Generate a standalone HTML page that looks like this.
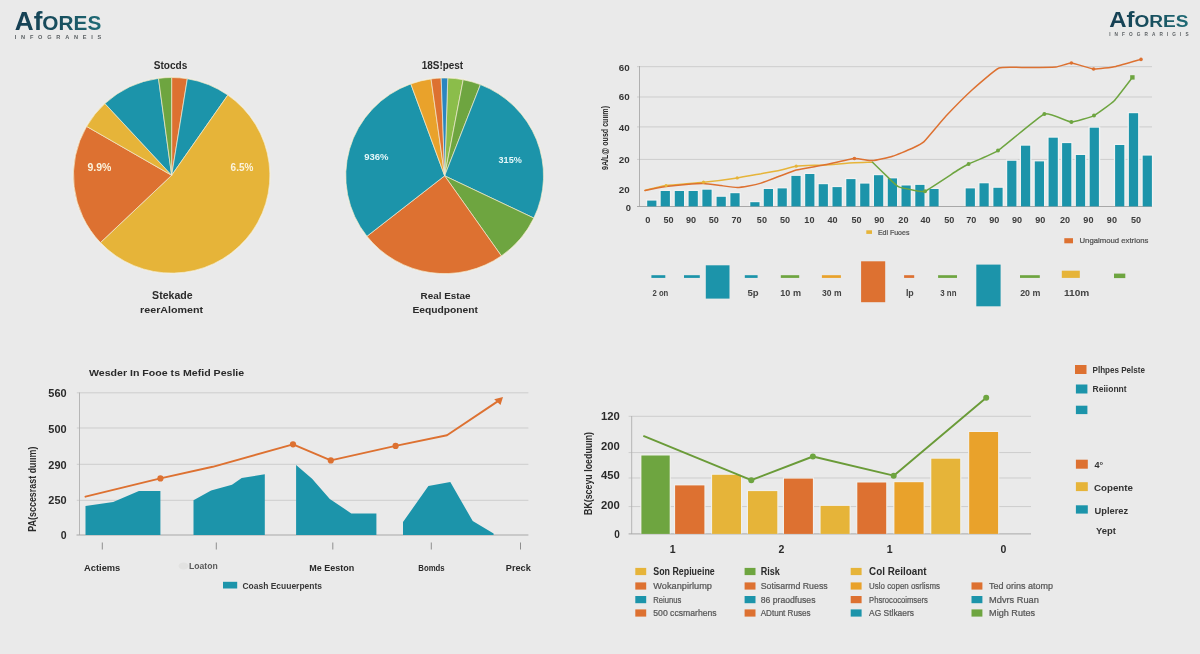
<!DOCTYPE html>
<html><head><meta charset="utf-8"><title>Afores</title>
<style>
html,body{margin:0;padding:0;background:#eaeaea;}
body{width:1200px;height:654px;overflow:hidden;font-family:"Liberation Sans",sans-serif;}
svg{display:block;font-family:"Liberation Sans",sans-serif;will-change:transform;}
</style></head><body>
<svg width="1200" height="654" viewBox="0 0 1200 654">
<defs><linearGradient id="lg14" gradientUnits="userSpaceOnUse" x1="14.8" y1="0" x2="101.3" y2="0"><stop offset="0" stop-color="#163f53"/><stop offset="0.55" stop-color="#18505f"/><stop offset="1" stop-color="#1f6b76"/></linearGradient></defs>
<text x="14.8" y="29.7" font-weight="bold" fill="url(#lg14)" textLength="86.5" lengthAdjust="spacingAndGlyphs"><tspan font-size="25.4">Af</tspan><tspan font-size="20.2">ORES</tspan></text>
<text x="14.8" y="39.1" font-size="5.6" font-weight="bold" fill="#5a5f62" textLength="86.5" lengthAdjust="spacing">INFOGRANEIS</text>
<defs><linearGradient id="lg1109" gradientUnits="userSpaceOnUse" x1="1109.2" y1="0" x2="1188.6" y2="0"><stop offset="0" stop-color="#163f53"/><stop offset="0.55" stop-color="#18505f"/><stop offset="1" stop-color="#1f6b76"/></linearGradient></defs>
<text x="1109.2" y="27.0" font-weight="bold" fill="url(#lg1109)" textLength="79.4" lengthAdjust="spacingAndGlyphs"><tspan font-size="21.6">Af</tspan><tspan font-size="17.2">ORES</tspan></text>
<text x="1109.2" y="35.8" font-size="4.7" font-weight="bold" fill="#5a5f62" textLength="79.4" lengthAdjust="spacing">INFOGRARIGIS</text>
<ellipse cx="171.65" cy="175.3" rx="99.10000000000001" ry="98.7" fill="#f3f0e4"/>
<path d="M171.65,175.30 L171.65,77.50 A98.2,97.8 0 0 1 187.35,78.76 Z" fill="#dd7131" stroke="#f1ead0" stroke-width="0.7" stroke-linejoin="round"/>
<path d="M171.65,175.30 L187.35,78.76 A98.2,97.8 0 0 1 227.83,95.09 Z" fill="#1c94aa" stroke="#f1ead0" stroke-width="0.7" stroke-linejoin="round"/>
<path d="M171.65,175.30 L227.83,95.09 A98.2,97.8 0 1 1 100.42,242.62 Z" fill="#e6b439" stroke="#f1ead0" stroke-width="0.7" stroke-linejoin="round"/>
<path d="M171.65,175.30 L100.42,242.62 A98.2,97.8 0 0 1 86.61,126.40 Z" fill="#dd7131" stroke="#f1ead0" stroke-width="0.7" stroke-linejoin="round"/>
<path d="M171.65,175.30 L86.61,126.40 A98.2,97.8 0 0 1 104.93,103.54 Z" fill="#e6b439" stroke="#f1ead0" stroke-width="0.7" stroke-linejoin="round"/>
<path d="M171.65,175.30 L104.93,103.54 A98.2,97.8 0 0 1 158.49,78.38 Z" fill="#1c94aa" stroke="#f1ead0" stroke-width="0.7" stroke-linejoin="round"/>
<path d="M171.65,175.30 L158.49,78.38 A98.2,97.8 0 0 1 171.65,77.50 Z" fill="#6ea540" stroke="#f1ead0" stroke-width="0.7" stroke-linejoin="round"/>
<text x="153.7" y="68.5" font-size="11" font-weight="bold" fill="#2a2a2a" text-anchor="start" textLength="33.6" lengthAdjust="spacingAndGlyphs" >Stocds</text>
<text x="87.5" y="171.0" font-size="10" font-weight="bold" fill="#fbf3dc" text-anchor="start" textLength="23.9" lengthAdjust="spacingAndGlyphs" >9.9%</text>
<text x="230.6" y="171.0" font-size="10" font-weight="bold" fill="#fbf3dc" text-anchor="start" textLength="22.7" lengthAdjust="spacingAndGlyphs" >6.5%</text>
<text x="152.1" y="298.8" font-size="10.3" font-weight="bold" fill="#2a2a2a" text-anchor="start" textLength="40.5" lengthAdjust="spacingAndGlyphs" >Stekade</text>
<text x="140.1" y="312.5" font-size="9.6" font-weight="bold" fill="#2a2a2a" text-anchor="start" textLength="63.0" lengthAdjust="spacingAndGlyphs" >reerAloment</text>
<ellipse cx="444.65" cy="175.8" rx="99.80000000000001" ry="98.7" fill="#f3f0e4"/>
<path d="M444.65,175.80 L447.76,78.05 A98.9,97.8 0 0 1 463.18,79.73 Z" fill="#8bbd4a" stroke="#f1ead0" stroke-width="0.7" stroke-linejoin="round"/>
<path d="M444.65,175.80 L463.18,79.73 A98.9,97.8 0 0 1 480.41,84.62 Z" fill="#6ea540" stroke="#f1ead0" stroke-width="0.7" stroke-linejoin="round"/>
<path d="M444.65,175.80 L480.41,84.62 A98.9,97.8 0 0 1 533.84,218.06 Z" fill="#1c94aa" stroke="#f1ead0" stroke-width="0.7" stroke-linejoin="round"/>
<path d="M444.65,175.80 L533.84,218.06 A98.9,97.8 0 0 1 501.38,255.91 Z" fill="#6ea540" stroke="#f1ead0" stroke-width="0.7" stroke-linejoin="round"/>
<path d="M444.65,175.80 L501.38,255.91 A98.9,97.8 0 0 1 366.93,236.28 Z" fill="#dd7131" stroke="#f1ead0" stroke-width="0.7" stroke-linejoin="round"/>
<path d="M444.65,175.80 L366.93,236.28 A98.9,97.8 0 0 1 410.82,83.90 Z" fill="#1c94aa" stroke="#f1ead0" stroke-width="0.7" stroke-linejoin="round"/>
<path d="M444.65,175.80 L410.82,83.90 A98.9,97.8 0 0 1 431.06,78.93 Z" fill="#e9a22b" stroke="#f1ead0" stroke-width="0.7" stroke-linejoin="round"/>
<path d="M444.65,175.80 L431.06,78.93 A98.9,97.8 0 0 1 441.20,78.06 Z" fill="#dd7131" stroke="#f1ead0" stroke-width="0.7" stroke-linejoin="round"/>
<path d="M444.65,175.80 L441.20,78.06 A98.9,97.8 0 0 1 447.76,78.05 Z" fill="#2a86c0" stroke="#f1ead0" stroke-width="0.7" stroke-linejoin="round"/>
<text x="421.7" y="68.5" font-size="11" font-weight="bold" fill="#2a2a2a" text-anchor="start" textLength="41.5" lengthAdjust="spacingAndGlyphs" >18S!pest</text>
<text x="364.2" y="160.4" font-size="9.6" font-weight="bold" fill="#e6f7f9" text-anchor="start" textLength="24.3" lengthAdjust="spacingAndGlyphs" >936%</text>
<text x="498.5" y="163.1" font-size="9.6" font-weight="bold" fill="#e6f7f9" text-anchor="start" textLength="23.3" lengthAdjust="spacingAndGlyphs" >315%</text>
<text x="420.6" y="298.7" font-size="9.9" font-weight="bold" fill="#2a2a2a" text-anchor="start" textLength="49.9" lengthAdjust="spacingAndGlyphs" >Real Estae</text>
<text x="412.4" y="312.6" font-size="9.5" font-weight="bold" fill="#2a2a2a" text-anchor="start" textLength="65.6" lengthAdjust="spacingAndGlyphs" >Eequdponent</text>
<line x1="637.0" y1="66.7" x2="1152.0" y2="66.7" stroke="#cdcdcd" stroke-width="1"/>
<line x1="637.0" y1="97.0" x2="1152.0" y2="97.0" stroke="#cdcdcd" stroke-width="1"/>
<line x1="637.0" y1="126.9" x2="1152.0" y2="126.9" stroke="#cdcdcd" stroke-width="1"/>
<line x1="637.0" y1="159.4" x2="1152.0" y2="159.4" stroke="#cdcdcd" stroke-width="1"/>
<line x1="639.5" y1="66.0" x2="639.5" y2="206.5" stroke="#a9a9a9" stroke-width="0.9"/>
<line x1="637.0" y1="206.5" x2="1152.0" y2="206.5" stroke="#a0a0a0" stroke-width="0.9"/>
<text x="629.6" y="70.5" font-size="9.4" font-weight="bold" fill="#363636" text-anchor="end" textLength="10.9" lengthAdjust="spacingAndGlyphs" >60</text>
<text x="629.6" y="100.3" font-size="9.4" font-weight="bold" fill="#363636" text-anchor="end" textLength="10.9" lengthAdjust="spacingAndGlyphs" >60</text>
<text x="629.6" y="131.3" font-size="9.4" font-weight="bold" fill="#363636" text-anchor="end" textLength="10.9" lengthAdjust="spacingAndGlyphs" >40</text>
<text x="629.6" y="163.0" font-size="9.4" font-weight="bold" fill="#363636" text-anchor="end" textLength="10.9" lengthAdjust="spacingAndGlyphs" >20</text>
<text x="629.6" y="193.4" font-size="9.4" font-weight="bold" fill="#363636" text-anchor="end" textLength="10.9" lengthAdjust="spacingAndGlyphs" >20</text>
<text x="631.0" y="210.6" font-size="9.4" font-weight="bold" fill="#363636" text-anchor="end" >0</text>
<rect x="645.9" y="199.4" width="11.8" height="6.6" fill="#f0f2f2"/>
<rect x="659.4" y="189.8" width="11.8" height="16.2" fill="#f0f2f2"/>
<rect x="673.5" y="189.8" width="11.8" height="16.2" fill="#f0f2f2"/>
<rect x="687.3" y="189.8" width="11.8" height="16.2" fill="#f0f2f2"/>
<rect x="701.1" y="188.5" width="11.8" height="17.5" fill="#f0f2f2"/>
<rect x="715.3" y="195.6" width="11.8" height="10.4" fill="#f0f2f2"/>
<rect x="729.1" y="192.0" width="11.8" height="14.0" fill="#f0f2f2"/>
<rect x="749.0" y="201.0" width="11.8" height="5.0" fill="#f0f2f2"/>
<rect x="762.5" y="187.8" width="11.8" height="18.2" fill="#f0f2f2"/>
<rect x="776.3" y="187.2" width="11.8" height="18.8" fill="#f0f2f2"/>
<rect x="790.1" y="174.7" width="11.8" height="31.3" fill="#f0f2f2"/>
<rect x="803.9" y="172.8" width="11.8" height="33.2" fill="#f0f2f2"/>
<rect x="817.4" y="183.0" width="11.8" height="23.0" fill="#f0f2f2"/>
<rect x="831.2" y="185.9" width="11.8" height="20.1" fill="#f0f2f2"/>
<rect x="845.0" y="177.9" width="11.8" height="28.1" fill="#f0f2f2"/>
<rect x="858.9" y="182.4" width="11.8" height="23.6" fill="#f0f2f2"/>
<rect x="872.7" y="174.0" width="11.8" height="32.0" fill="#f0f2f2"/>
<rect x="886.5" y="177.2" width="11.8" height="28.8" fill="#f0f2f2"/>
<rect x="900.2" y="184.3" width="11.8" height="21.7" fill="#f0f2f2"/>
<rect x="914.0" y="183.7" width="11.8" height="22.3" fill="#f0f2f2"/>
<rect x="928.1" y="187.8" width="11.8" height="18.2" fill="#f0f2f2"/>
<rect x="964.4" y="187.2" width="11.8" height="18.8" fill="#f0f2f2"/>
<rect x="978.2" y="182.1" width="11.8" height="23.9" fill="#f0f2f2"/>
<rect x="992.1" y="186.6" width="11.8" height="19.4" fill="#f0f2f2"/>
<rect x="1005.9" y="159.6" width="11.8" height="46.4" fill="#f0f2f2"/>
<rect x="1019.7" y="144.5" width="11.8" height="61.5" fill="#f0f2f2"/>
<rect x="1033.5" y="160.2" width="11.8" height="45.8" fill="#f0f2f2"/>
<rect x="1047.3" y="136.5" width="11.8" height="69.5" fill="#f0f2f2"/>
<rect x="1060.8" y="141.9" width="11.8" height="64.1" fill="#f0f2f2"/>
<rect x="1074.6" y="153.8" width="11.8" height="52.2" fill="#f0f2f2"/>
<rect x="1088.4" y="126.5" width="11.8" height="79.5" fill="#f0f2f2"/>
<rect x="1113.8" y="143.8" width="11.8" height="62.2" fill="#f0f2f2"/>
<rect x="1127.6" y="112.0" width="11.8" height="94.0" fill="#f0f2f2"/>
<rect x="1141.4" y="154.4" width="11.8" height="51.6" fill="#f0f2f2"/>
<rect x="647.2" y="200.6" width="9.2" height="5.8" fill="#1c94aa"/>
<rect x="660.7" y="191.0" width="9.2" height="15.4" fill="#1c94aa"/>
<rect x="674.8" y="191.0" width="9.2" height="15.4" fill="#1c94aa"/>
<rect x="688.6" y="191.0" width="9.2" height="15.4" fill="#1c94aa"/>
<rect x="702.4" y="189.7" width="9.2" height="16.7" fill="#1c94aa"/>
<rect x="716.6" y="196.8" width="9.2" height="9.6" fill="#1c94aa"/>
<rect x="730.4" y="193.2" width="9.2" height="13.2" fill="#1c94aa"/>
<rect x="750.3" y="202.2" width="9.2" height="4.2" fill="#1c94aa"/>
<rect x="763.8" y="189.0" width="9.2" height="17.4" fill="#1c94aa"/>
<rect x="777.6" y="188.4" width="9.2" height="18.0" fill="#1c94aa"/>
<rect x="791.4" y="175.9" width="9.2" height="30.5" fill="#1c94aa"/>
<rect x="805.2" y="174.0" width="9.2" height="32.4" fill="#1c94aa"/>
<rect x="818.7" y="184.2" width="9.2" height="22.2" fill="#1c94aa"/>
<rect x="832.5" y="187.1" width="9.2" height="19.3" fill="#1c94aa"/>
<rect x="846.3" y="179.1" width="9.2" height="27.3" fill="#1c94aa"/>
<rect x="860.2" y="183.6" width="9.2" height="22.8" fill="#1c94aa"/>
<rect x="874.0" y="175.2" width="9.2" height="31.2" fill="#1c94aa"/>
<rect x="887.8" y="178.4" width="9.2" height="28.0" fill="#1c94aa"/>
<rect x="901.5" y="185.5" width="9.2" height="20.9" fill="#1c94aa"/>
<rect x="915.3" y="184.9" width="9.2" height="21.5" fill="#1c94aa"/>
<rect x="929.4" y="189.0" width="9.2" height="17.4" fill="#1c94aa"/>
<rect x="965.7" y="188.4" width="9.2" height="18.0" fill="#1c94aa"/>
<rect x="979.5" y="183.3" width="9.2" height="23.1" fill="#1c94aa"/>
<rect x="993.4" y="187.8" width="9.2" height="18.6" fill="#1c94aa"/>
<rect x="1007.2" y="160.8" width="9.2" height="45.6" fill="#1c94aa"/>
<rect x="1021.0" y="145.7" width="9.2" height="60.7" fill="#1c94aa"/>
<rect x="1034.8" y="161.4" width="9.2" height="45.0" fill="#1c94aa"/>
<rect x="1048.6" y="137.7" width="9.2" height="68.7" fill="#1c94aa"/>
<rect x="1062.1" y="143.1" width="9.2" height="63.3" fill="#1c94aa"/>
<rect x="1075.9" y="155.0" width="9.2" height="51.4" fill="#1c94aa"/>
<rect x="1089.7" y="127.7" width="9.2" height="78.7" fill="#1c94aa"/>
<rect x="1115.1" y="145.0" width="9.2" height="61.4" fill="#1c94aa"/>
<rect x="1128.9" y="113.2" width="9.2" height="93.2" fill="#1c94aa"/>
<rect x="1142.7" y="155.6" width="9.2" height="50.8" fill="#1c94aa"/>
<path d="M645.0,190.4 C647.1,189.9 660.1,186.4 666.0,185.6 C671.9,184.8 696.4,183.0 703.5,182.2 C710.6,181.5 731.5,178.8 737.2,177.9 C743.0,177.1 756.7,174.5 761.0,173.8 C765.3,173.0 776.5,171.0 780.0,170.2 C783.5,169.5 791.9,166.8 796.2,166.2 C800.6,165.7 817.9,165.3 823.8,165.0 C829.6,164.7 849.5,163.0 854.4,162.8 C859.3,162.5 870.7,162.3 872.5,162.2" fill="none" stroke="#e6b439" stroke-width="1.5" stroke-linejoin="round" stroke-linecap="round"/>
<path d="M872.5,162.2 C873.5,163.2 887.2,176.6 888.8,178.1 C890.3,179.6 897.3,186.2 898.8,186.9 C900.2,187.6 910.9,189.7 912.5,190.0 C914.1,190.3 922.3,192.4 925.0,191.2 C927.7,190.1 955.4,171.6 958.0,170.0 C960.6,168.4 966.2,165.2 968.6,164.0 C971.0,162.8 993.5,153.6 998.0,150.6 C1002.5,147.6 1040.0,115.7 1044.4,114.0 C1048.8,112.3 1068.4,121.9 1071.4,122.0 C1074.4,122.1 1091.4,116.9 1094.0,115.6 C1096.6,114.3 1111.7,103.3 1114.0,101.0 C1116.3,98.7 1131.3,78.8 1132.4,77.4" fill="none" stroke="#6ea540" stroke-width="1.5" stroke-linejoin="round" stroke-linecap="round"/>
<path d="M645.0,190.4 C646.5,190.1 663.1,186.9 666.0,186.5 C668.9,186.1 683.4,184.6 686.0,184.4 C688.6,184.2 701.0,183.4 703.5,183.5 C706.0,183.6 718.6,185.3 721.0,185.6 C723.4,185.9 735.3,187.5 737.2,187.5 C739.2,187.5 746.8,186.3 748.5,186.0 C750.2,185.7 758.8,183.8 761.0,183.1 C763.2,182.4 777.5,176.9 780.0,176.0 C782.5,175.1 793.2,170.8 796.2,170.0 C799.3,169.2 819.7,165.8 823.8,165.0 C827.8,164.2 851.0,158.8 854.4,158.5 C857.8,158.2 869.8,160.8 872.5,160.6 C875.2,160.4 889.8,157.1 892.5,156.2 C895.2,155.4 909.1,149.8 911.2,148.8 C913.4,147.7 921.3,144.2 923.8,141.9 C926.2,139.6 942.6,119.6 946.0,116.0 C949.4,112.4 968.3,93.4 972.0,90.0 C975.7,86.6 995.1,69.6 999.0,68.0 C1002.9,66.4 1024.0,67.7 1028.0,67.6 C1032.0,67.5 1053.0,67.3 1056.0,67.0 C1059.0,66.7 1068.8,62.9 1071.4,63.0 C1074.0,63.1 1090.5,68.8 1093.6,69.0 C1096.7,69.2 1112.7,67.1 1116.0,66.4 C1119.3,65.7 1139.2,59.9 1141.0,59.4" fill="none" stroke="#dd7131" stroke-width="1.5" stroke-linejoin="round" stroke-linecap="round"/>
<circle cx="925.0" cy="191.2" r="2.0" fill="#6ea540"/>
<circle cx="968.6" cy="164.0" r="2.0" fill="#6ea540"/>
<circle cx="998.0" cy="150.6" r="2.0" fill="#6ea540"/>
<circle cx="1044.4" cy="114.0" r="2.0" fill="#6ea540"/>
<circle cx="1071.4" cy="122.0" r="2.0" fill="#6ea540"/>
<circle cx="1094.0" cy="115.6" r="2.0" fill="#6ea540"/>
<rect x="1130.2" y="75.2" width="4.4" height="4.4" fill="#6ea540"/>
<circle cx="854.4" cy="158.5" r="1.8" fill="#dd7131"/>
<circle cx="1071.4" cy="63.0" r="1.8" fill="#dd7131"/>
<circle cx="1093.6" cy="69.0" r="1.8" fill="#dd7131"/>
<circle cx="1141.0" cy="59.4" r="1.8" fill="#dd7131"/>
<circle cx="666.0" cy="185.6" r="1.6" fill="#e6b439"/>
<circle cx="703.5" cy="182.2" r="1.6" fill="#e6b439"/>
<circle cx="737.2" cy="177.9" r="1.6" fill="#e6b439"/>
<circle cx="796.2" cy="166.2" r="1.6" fill="#e6b439"/>
<text x="647.8" y="223.0" font-size="9.3" font-weight="bold" fill="#3c3c3c" text-anchor="middle" >0</text>
<text x="668.6" y="223.0" font-size="9.3" font-weight="bold" fill="#3c3c3c" text-anchor="middle" textLength="10.1" lengthAdjust="spacingAndGlyphs" >50</text>
<text x="691.0" y="223.0" font-size="9.3" font-weight="bold" fill="#3c3c3c" text-anchor="middle" textLength="10.1" lengthAdjust="spacingAndGlyphs" >90</text>
<text x="713.7" y="223.0" font-size="9.3" font-weight="bold" fill="#3c3c3c" text-anchor="middle" textLength="10.1" lengthAdjust="spacingAndGlyphs" >50</text>
<text x="736.5" y="223.0" font-size="9.3" font-weight="bold" fill="#3c3c3c" text-anchor="middle" textLength="10.1" lengthAdjust="spacingAndGlyphs" >70</text>
<text x="761.9" y="223.0" font-size="9.3" font-weight="bold" fill="#3c3c3c" text-anchor="middle" textLength="10.1" lengthAdjust="spacingAndGlyphs" >50</text>
<text x="785.0" y="223.0" font-size="9.3" font-weight="bold" fill="#3c3c3c" text-anchor="middle" textLength="10.1" lengthAdjust="spacingAndGlyphs" >50</text>
<text x="809.4" y="223.0" font-size="9.3" font-weight="bold" fill="#3c3c3c" text-anchor="middle" textLength="10.1" lengthAdjust="spacingAndGlyphs" >10</text>
<text x="832.5" y="223.0" font-size="9.3" font-weight="bold" fill="#3c3c3c" text-anchor="middle" textLength="10.1" lengthAdjust="spacingAndGlyphs" >40</text>
<text x="856.6" y="223.0" font-size="9.3" font-weight="bold" fill="#3c3c3c" text-anchor="middle" textLength="10.1" lengthAdjust="spacingAndGlyphs" >50</text>
<text x="879.3" y="223.0" font-size="9.3" font-weight="bold" fill="#3c3c3c" text-anchor="middle" textLength="10.1" lengthAdjust="spacingAndGlyphs" >90</text>
<text x="903.4" y="223.0" font-size="9.3" font-weight="bold" fill="#3c3c3c" text-anchor="middle" textLength="10.1" lengthAdjust="spacingAndGlyphs" >20</text>
<text x="925.6" y="223.0" font-size="9.3" font-weight="bold" fill="#3c3c3c" text-anchor="middle" textLength="10.1" lengthAdjust="spacingAndGlyphs" >40</text>
<text x="949.3" y="223.0" font-size="9.3" font-weight="bold" fill="#3c3c3c" text-anchor="middle" textLength="10.1" lengthAdjust="spacingAndGlyphs" >50</text>
<text x="971.2" y="223.0" font-size="9.3" font-weight="bold" fill="#3c3c3c" text-anchor="middle" textLength="10.1" lengthAdjust="spacingAndGlyphs" >70</text>
<text x="994.3" y="223.0" font-size="9.3" font-weight="bold" fill="#3c3c3c" text-anchor="middle" textLength="10.1" lengthAdjust="spacingAndGlyphs" >90</text>
<text x="1017.1" y="223.0" font-size="9.3" font-weight="bold" fill="#3c3c3c" text-anchor="middle" textLength="10.1" lengthAdjust="spacingAndGlyphs" >90</text>
<text x="1040.3" y="223.0" font-size="9.3" font-weight="bold" fill="#3c3c3c" text-anchor="middle" textLength="10.1" lengthAdjust="spacingAndGlyphs" >90</text>
<text x="1065.0" y="223.0" font-size="9.3" font-weight="bold" fill="#3c3c3c" text-anchor="middle" textLength="10.1" lengthAdjust="spacingAndGlyphs" >20</text>
<text x="1088.4" y="223.0" font-size="9.3" font-weight="bold" fill="#3c3c3c" text-anchor="middle" textLength="10.1" lengthAdjust="spacingAndGlyphs" >90</text>
<text x="1111.9" y="223.0" font-size="9.3" font-weight="bold" fill="#3c3c3c" text-anchor="middle" textLength="10.1" lengthAdjust="spacingAndGlyphs" >90</text>
<text x="1136.0" y="223.0" font-size="9.3" font-weight="bold" fill="#3c3c3c" text-anchor="middle" textLength="10.1" lengthAdjust="spacingAndGlyphs" >50</text>
<text transform="translate(607.9,170.0) rotate(-90)" font-size="9.5" font-weight="bold" fill="#2a2a2a" textLength="64.0" lengthAdjust="spacingAndGlyphs">9A/L@ ousd cuıım)</text>
<rect x="866.3" y="230.3" width="5.7" height="3.6" fill="#e6b439"/>
<text x="877.9" y="234.7" font-size="7.2" font-weight="normal" fill="#505050" text-anchor="start" textLength="31.5" lengthAdjust="spacingAndGlyphs"  stroke="#505050" stroke-width="0.22">Edl Fuoes</text>
<rect x="1064.3" y="238.2" width="8.7" height="5.1" fill="#dd7131"/>
<text x="1079.5" y="243.3" font-size="7.4" font-weight="normal" fill="#505050" text-anchor="start" textLength="68.9" lengthAdjust="spacingAndGlyphs"  stroke="#505050" stroke-width="0.22">Ungalmoud extrions</text>
<rect x="651.4" y="275.2" width="13.9" height="2.7" fill="#1c94aa"/>
<rect x="684.0" y="275.2" width="15.8" height="2.7" fill="#1c94aa"/>
<rect x="705.8" y="265.3" width="23.7" height="33.3" fill="#1c94aa"/>
<rect x="744.8" y="275.2" width="12.8" height="2.7" fill="#1c94aa"/>
<rect x="780.8" y="275.2" width="18.4" height="2.7" fill="#6ea540"/>
<rect x="821.9" y="275.2" width="19.0" height="2.7" fill="#e9a22b"/>
<rect x="861.1" y="261.3" width="24.1" height="40.9" fill="#dd7131"/>
<rect x="904.1" y="275.2" width="10.1" height="2.7" fill="#dd7131"/>
<rect x="938.1" y="275.2" width="18.9" height="2.7" fill="#6ea540"/>
<rect x="976.3" y="264.6" width="24.3" height="41.7" fill="#1c94aa"/>
<rect x="1020.0" y="275.2" width="19.8" height="2.7" fill="#6ea540"/>
<rect x="1061.8" y="270.7" width="18.0" height="7.2" fill="#e6b439"/>
<rect x="1114.0" y="273.6" width="11.3" height="4.5" fill="#6ea540"/>
<text x="652.5" y="296.4" font-size="8.4" font-weight="bold" fill="#444" text-anchor="start" textLength="15.8" lengthAdjust="spacingAndGlyphs" >2 on</text>
<text x="747.5" y="296.4" font-size="8.4" font-weight="bold" fill="#444" text-anchor="start" textLength="11.2" lengthAdjust="spacingAndGlyphs" >5p</text>
<text x="780.3" y="296.4" font-size="8.4" font-weight="bold" fill="#444" text-anchor="start" textLength="20.7" lengthAdjust="spacingAndGlyphs" >10 m</text>
<text x="822.0" y="296.4" font-size="8.4" font-weight="bold" fill="#444" text-anchor="start" textLength="19.5" lengthAdjust="spacingAndGlyphs" >30 m</text>
<text x="905.9" y="296.4" font-size="8.4" font-weight="bold" fill="#444" text-anchor="start" textLength="7.9" lengthAdjust="spacingAndGlyphs" >lp</text>
<text x="940.3" y="296.4" font-size="8.4" font-weight="bold" fill="#444" text-anchor="start" textLength="16.2" lengthAdjust="spacingAndGlyphs" >3 nn</text>
<text x="1020.2" y="296.4" font-size="8.4" font-weight="bold" fill="#444" text-anchor="start" textLength="20.2" lengthAdjust="spacingAndGlyphs" >20 m</text>
<text x="1064.0" y="296.4" font-size="8.4" font-weight="bold" fill="#444" text-anchor="start" textLength="25.3" lengthAdjust="spacingAndGlyphs" >110m</text>
<text x="89.0" y="375.8" font-size="9.9" font-weight="bold" fill="#2a2a2a" text-anchor="start" textLength="155.2" lengthAdjust="spacingAndGlyphs" >Wesder In Fooe ts Meﬁd Peslie</text>
<line x1="76.8" y1="392.8" x2="528.4" y2="392.8" stroke="#cdcdcd" stroke-width="1"/>
<line x1="76.8" y1="428.0" x2="528.4" y2="428.0" stroke="#cdcdcd" stroke-width="1"/>
<line x1="76.8" y1="464.3" x2="528.4" y2="464.3" stroke="#cdcdcd" stroke-width="1"/>
<line x1="76.8" y1="500.3" x2="528.4" y2="500.3" stroke="#cdcdcd" stroke-width="1"/>
<line x1="79.5" y1="392.5" x2="79.5" y2="535.0" stroke="#b0b0b0" stroke-width="0.9"/>
<line x1="76.5" y1="535.0" x2="528.4" y2="535.0" stroke="#a8a8a8" stroke-width="1"/>
<text x="66.6" y="397.0" font-size="10.8" font-weight="bold" fill="#2a2a2a" text-anchor="end" textLength="18.3" lengthAdjust="spacingAndGlyphs" >560</text>
<text x="66.6" y="432.5" font-size="10.8" font-weight="bold" fill="#2a2a2a" text-anchor="end" textLength="18.3" lengthAdjust="spacingAndGlyphs" >500</text>
<text x="66.6" y="468.7" font-size="10.8" font-weight="bold" fill="#2a2a2a" text-anchor="end" textLength="18.3" lengthAdjust="spacingAndGlyphs" >290</text>
<text x="66.6" y="504.4" font-size="10.8" font-weight="bold" fill="#2a2a2a" text-anchor="end" textLength="18.3" lengthAdjust="spacingAndGlyphs" >250</text>
<text x="66.5" y="538.8" font-size="10.5" font-weight="bold" fill="#2a2a2a" text-anchor="end" >0</text>
<polygon points="85.5,535.0 85.5,506.0 113.2,502.1 138.9,490.9 160.4,490.9 160.4,535.0" fill="#1c94aa"/>
<polygon points="193.5,535.0 193.5,500.2 211.1,490.6 232.0,484.8 241.7,478.0 264.8,474.2 264.8,535.0" fill="#1c94aa"/>
<polygon points="296.1,535.0 296.1,464.9 312.1,478.7 329.8,498.9 351.3,513.4 376.4,513.4 376.4,535.0" fill="#1c94aa"/>
<polygon points="403.0,535.0 403.0,522.0 428.4,486.1 450.3,481.9 472.7,521.1 493.6,533.6 493.6,535.0" fill="#1c94aa"/>
<polyline points="85.5,496.7 160.4,478.4 212.7,466.8 293.0,444.3 330.8,460.4 395.6,445.9 447.0,435.3 498.4,400.9" fill="none" stroke="#dd7131" stroke-width="1.9" stroke-linejoin="round" stroke-linecap="round"/>
<circle cx="160.4" cy="478.4" r="3.1" fill="#dd7131"/>
<circle cx="293.0" cy="444.3" r="3.1" fill="#dd7131"/>
<circle cx="330.8" cy="460.4" r="3.1" fill="#dd7131"/>
<circle cx="395.6" cy="445.9" r="3.1" fill="#dd7131"/>
<polygon points="494.2,399.2 503,396.9 500.5,405" fill="#dd7131"/>
<line x1="102.3" y1="542.5" x2="102.3" y2="549.5" stroke="#777" stroke-width="0.8"/>
<line x1="216.3" y1="542.5" x2="216.3" y2="549.5" stroke="#777" stroke-width="0.8"/>
<line x1="332.8" y1="542.5" x2="332.8" y2="549.5" stroke="#777" stroke-width="0.8"/>
<line x1="431.3" y1="542.5" x2="431.3" y2="549.5" stroke="#777" stroke-width="0.8"/>
<line x1="520.5" y1="542.5" x2="520.5" y2="549.5" stroke="#777" stroke-width="0.8"/>
<text x="84.1" y="570.8" font-size="9.9" font-weight="bold" fill="#2a2a2a" text-anchor="start" textLength="36.2" lengthAdjust="spacingAndGlyphs" >Actiems</text>
<ellipse cx="183.5" cy="566" rx="5" ry="3.5" fill="#e2e2e1"/>
<text x="189.0" y="569.2" font-size="8.2" font-weight="bold" fill="#5a5a5a" text-anchor="start" textLength="28.7" lengthAdjust="spacingAndGlyphs" >Loaton</text>
<text x="309.2" y="570.8" font-size="9.9" font-weight="bold" fill="#2a2a2a" text-anchor="start" textLength="45.0" lengthAdjust="spacingAndGlyphs" >Me Eeston</text>
<text x="418.3" y="570.8" font-size="9.9" font-weight="bold" fill="#2a2a2a" text-anchor="start" textLength="26.3" lengthAdjust="spacingAndGlyphs" >Bomds</text>
<text x="505.8" y="570.8" font-size="9.9" font-weight="bold" fill="#2a2a2a" text-anchor="start" textLength="25.0" lengthAdjust="spacingAndGlyphs" >Preck</text>
<rect x="223.0" y="581.8" width="14.2" height="6.7" fill="#1c94aa"/>
<text x="242.5" y="588.6" font-size="8.9" font-weight="bold" fill="#383838" text-anchor="start" textLength="79.5" lengthAdjust="spacingAndGlyphs" >Coash Ecuuerpents</text>
<text transform="translate(36.4,531.7) rotate(-90)" font-size="10" font-weight="bold" fill="#2a2a2a" textLength="85.1" lengthAdjust="spacingAndGlyphs">PA(sccesrast duıım)</text>
<text transform="translate(592.0,515.0) rotate(-90)" font-size="10" font-weight="bold" fill="#2a2a2a" textLength="83.0" lengthAdjust="spacingAndGlyphs">BK(sceyu loeduuın)</text>
<line x1="628.6" y1="416.3" x2="1031.0" y2="416.3" stroke="#cdcdcd" stroke-width="1"/>
<line x1="628.6" y1="452.6" x2="1031.0" y2="452.6" stroke="#cdcdcd" stroke-width="1"/>
<line x1="628.6" y1="478.0" x2="1031.0" y2="478.0" stroke="#cdcdcd" stroke-width="1"/>
<line x1="628.6" y1="506.6" x2="1031.0" y2="506.6" stroke="#cdcdcd" stroke-width="1"/>
<line x1="631.7" y1="416.0" x2="631.7" y2="533.9" stroke="#b0b0b0" stroke-width="0.9"/>
<line x1="628.6" y1="533.9" x2="1031.0" y2="533.9" stroke="#a8a8a8" stroke-width="1"/>
<text x="619.8" y="419.6" font-size="10" font-weight="bold" fill="#2a2a2a" text-anchor="end" textLength="18.8" lengthAdjust="spacingAndGlyphs" >120</text>
<text x="619.8" y="450.1" font-size="10" font-weight="bold" fill="#2a2a2a" text-anchor="end" textLength="18.8" lengthAdjust="spacingAndGlyphs" >200</text>
<text x="619.8" y="479.3" font-size="10" font-weight="bold" fill="#2a2a2a" text-anchor="end" textLength="18.8" lengthAdjust="spacingAndGlyphs" >450</text>
<text x="619.8" y="509.0" font-size="10" font-weight="bold" fill="#2a2a2a" text-anchor="end" textLength="18.8" lengthAdjust="spacingAndGlyphs" >200</text>
<text x="619.8" y="537.9" font-size="10" font-weight="bold" fill="#2a2a2a" text-anchor="end" >0</text>
<rect x="640.3" y="454.4" width="30.5" height="79.0" fill="#f1f0ec"/>
<rect x="641.4" y="455.5" width="28.3" height="78.4" fill="#6ea540"/>
<rect x="674.0" y="484.3" width="31.5" height="49.1" fill="#f1f0ec"/>
<rect x="675.1" y="485.4" width="29.3" height="48.5" fill="#dd7131"/>
<rect x="711.0" y="473.7" width="31.1" height="59.7" fill="#f1f0ec"/>
<rect x="712.1" y="474.8" width="28.9" height="59.1" fill="#e6b439"/>
<rect x="746.9" y="490.0" width="31.5" height="43.4" fill="#f1f0ec"/>
<rect x="748.0" y="491.1" width="29.3" height="42.8" fill="#e6b439"/>
<rect x="782.9" y="477.5" width="31.1" height="55.9" fill="#f1f0ec"/>
<rect x="784.0" y="478.6" width="28.9" height="55.3" fill="#dd7131"/>
<rect x="819.5" y="504.8" width="31.2" height="28.6" fill="#f1f0ec"/>
<rect x="820.6" y="505.9" width="29.0" height="28.0" fill="#e6b439"/>
<rect x="856.2" y="481.4" width="31.1" height="52.0" fill="#f1f0ec"/>
<rect x="857.3" y="482.5" width="28.9" height="51.4" fill="#dd7131"/>
<rect x="893.3" y="481.1" width="31.4" height="52.3" fill="#f1f0ec"/>
<rect x="894.4" y="482.2" width="29.2" height="51.7" fill="#e9a22b"/>
<rect x="930.2" y="457.6" width="31.1" height="75.8" fill="#f1f0ec"/>
<rect x="931.3" y="458.7" width="28.9" height="75.2" fill="#e6b439"/>
<rect x="968.1" y="430.9" width="31.1" height="102.5" fill="#f1f0ec"/>
<rect x="969.2" y="432.0" width="28.9" height="101.9" fill="#e9a22b"/>
<polyline points="644.0,436.2 751.3,480.2 812.9,456.5 893.7,475.7 986.2,397.7" fill="none" stroke="#6a9b38" stroke-width="1.9" stroke-linejoin="round" stroke-linecap="round"/>
<circle cx="751.3" cy="480.2" r="3.0" fill="#6ea540"/>
<circle cx="812.9" cy="456.5" r="3.0" fill="#6ea540"/>
<circle cx="893.7" cy="475.7" r="3.0" fill="#6ea540"/>
<circle cx="986.2" cy="397.7" r="3.0" fill="#6ea540"/>
<text x="672.6" y="553.1" font-size="10.5" font-weight="bold" fill="#2a2a2a" text-anchor="middle" >1</text>
<text x="781.5" y="553.1" font-size="10.5" font-weight="bold" fill="#2a2a2a" text-anchor="middle" >2</text>
<text x="889.7" y="553.1" font-size="10.5" font-weight="bold" fill="#2a2a2a" text-anchor="middle" >1</text>
<text x="1003.3" y="553.1" font-size="10.5" font-weight="bold" fill="#2a2a2a" text-anchor="middle" >0</text>
<rect x="635.3" y="567.9" width="10.9" height="7.2" fill="#e6b439"/>
<text x="653.3" y="574.6" font-size="10" font-weight="bold" fill="#2a2a2a" text-anchor="start" textLength="61.4" lengthAdjust="spacingAndGlyphs" >Son Repiueine</text>
<rect x="635.3" y="582.4" width="10.9" height="7.2" fill="#dd7131"/>
<text x="653.3" y="589.3" font-size="8.3" font-weight="normal" fill="#565656" text-anchor="start" textLength="58.7" lengthAdjust="spacingAndGlyphs"  stroke="#565656" stroke-width="0.22">Wokanpirlump</text>
<rect x="635.3" y="596.0" width="10.9" height="7.2" fill="#1c94aa"/>
<text x="653.3" y="602.9" font-size="8.3" font-weight="normal" fill="#565656" text-anchor="start" textLength="28.0" lengthAdjust="spacingAndGlyphs"  stroke="#565656" stroke-width="0.22">Reiunus</text>
<rect x="635.3" y="609.4" width="10.9" height="7.2" fill="#dd7131"/>
<text x="653.3" y="616.3" font-size="8.3" font-weight="normal" fill="#565656" text-anchor="start" textLength="63.3" lengthAdjust="spacingAndGlyphs"  stroke="#565656" stroke-width="0.22">500 ccsmarhens</text>
<rect x="744.6" y="567.9" width="10.9" height="7.2" fill="#6ea540"/>
<text x="760.7" y="574.6" font-size="10" font-weight="bold" fill="#2a2a2a" text-anchor="start" textLength="19.1" lengthAdjust="spacingAndGlyphs" >Risk</text>
<rect x="744.6" y="582.4" width="10.9" height="7.2" fill="#dd7131"/>
<text x="760.7" y="589.3" font-size="8.3" font-weight="normal" fill="#565656" text-anchor="start" textLength="67.0" lengthAdjust="spacingAndGlyphs"  stroke="#565656" stroke-width="0.22">Sotisarmd Ruess</text>
<rect x="744.6" y="596.0" width="10.9" height="7.2" fill="#1c94aa"/>
<text x="760.7" y="602.9" font-size="8.3" font-weight="normal" fill="#565656" text-anchor="start" textLength="54.8" lengthAdjust="spacingAndGlyphs"  stroke="#565656" stroke-width="0.22">86 praodfuses</text>
<rect x="744.6" y="609.4" width="10.9" height="7.2" fill="#dd7131"/>
<text x="760.7" y="616.3" font-size="8.3" font-weight="normal" fill="#565656" text-anchor="start" textLength="49.8" lengthAdjust="spacingAndGlyphs"  stroke="#565656" stroke-width="0.22">ADtunt Ruses</text>
<rect x="850.7" y="567.9" width="10.9" height="7.2" fill="#e6b439"/>
<text x="869.1" y="574.6" font-size="10" font-weight="bold" fill="#2a2a2a" text-anchor="start" textLength="57.5" lengthAdjust="spacingAndGlyphs" >Col Reiloant</text>
<rect x="850.7" y="582.4" width="10.9" height="7.2" fill="#e9a22b"/>
<text x="869.1" y="589.3" font-size="8.3" font-weight="normal" fill="#565656" text-anchor="start" textLength="70.9" lengthAdjust="spacingAndGlyphs"  stroke="#565656" stroke-width="0.22">Uslo copen osrlisms</text>
<rect x="850.7" y="596.0" width="10.9" height="7.2" fill="#dd7131"/>
<text x="869.1" y="602.9" font-size="8.3" font-weight="normal" fill="#565656" text-anchor="start" textLength="58.7" lengthAdjust="spacingAndGlyphs"  stroke="#565656" stroke-width="0.22">Phsrococoimsers</text>
<rect x="850.7" y="609.4" width="10.9" height="7.2" fill="#1c94aa"/>
<text x="869.1" y="616.3" font-size="8.3" font-weight="normal" fill="#565656" text-anchor="start" textLength="44.9" lengthAdjust="spacingAndGlyphs"  stroke="#565656" stroke-width="0.22">AG Stlkaers</text>
<rect x="971.5" y="582.4" width="10.9" height="7.2" fill="#dd7131"/>
<text x="989.1" y="589.3" font-size="8.3" font-weight="normal" fill="#565656" text-anchor="start" textLength="64.0" lengthAdjust="spacingAndGlyphs"  stroke="#565656" stroke-width="0.22">Ted orins atomp</text>
<rect x="971.5" y="596.0" width="10.9" height="7.2" fill="#1c94aa"/>
<text x="989.1" y="602.9" font-size="8.3" font-weight="normal" fill="#565656" text-anchor="start" textLength="49.8" lengthAdjust="spacingAndGlyphs"  stroke="#565656" stroke-width="0.22">Mdvrs Ruan</text>
<rect x="971.5" y="609.4" width="10.9" height="7.2" fill="#6ea540"/>
<text x="989.1" y="616.3" font-size="8.3" font-weight="normal" fill="#565656" text-anchor="start" textLength="46.0" lengthAdjust="spacingAndGlyphs"  stroke="#565656" stroke-width="0.22">Migh Rutes</text>
<rect x="1075.0" y="365.0" width="11.5" height="9.0" fill="#dd7131"/>
<text x="1092.5" y="372.9" font-size="9.5" font-weight="bold" fill="#333" text-anchor="start" textLength="52.5" lengthAdjust="spacingAndGlyphs" >Plhpes Pelste</text>
<rect x="1075.9" y="384.5" width="11.5" height="9.0" fill="#1c94aa"/>
<text x="1092.6" y="392.4" font-size="9.5" font-weight="bold" fill="#333" text-anchor="start" textLength="34.0" lengthAdjust="spacingAndGlyphs" >Reiionnt</text>
<rect x="1075.9" y="405.7" width="11.5" height="8.4" fill="#1c94aa"/>
<rect x="1075.9" y="459.7" width="11.9" height="9.0" fill="#dd7131"/>
<text x="1094.5" y="467.6" font-size="9.5" font-weight="bold" fill="#333" text-anchor="start" textLength="8.7" lengthAdjust="spacingAndGlyphs" >4°</text>
<rect x="1075.9" y="482.2" width="11.9" height="8.9" fill="#e6b439"/>
<text x="1093.9" y="490.5" font-size="9.6" font-weight="bold" fill="#333" text-anchor="start" textLength="39.1" lengthAdjust="spacingAndGlyphs" >Copente</text>
<rect x="1075.9" y="505.3" width="11.9" height="8.3" fill="#1c94aa"/>
<text x="1094.5" y="513.5" font-size="9.5" font-weight="bold" fill="#333" text-anchor="start" textLength="33.7" lengthAdjust="spacingAndGlyphs" >Uplerez</text>
<text x="1096.1" y="534.4" font-size="9.5" font-weight="bold" fill="#333" text-anchor="start" textLength="19.9" lengthAdjust="spacingAndGlyphs" >Yept</text>
</svg>
</body></html>
